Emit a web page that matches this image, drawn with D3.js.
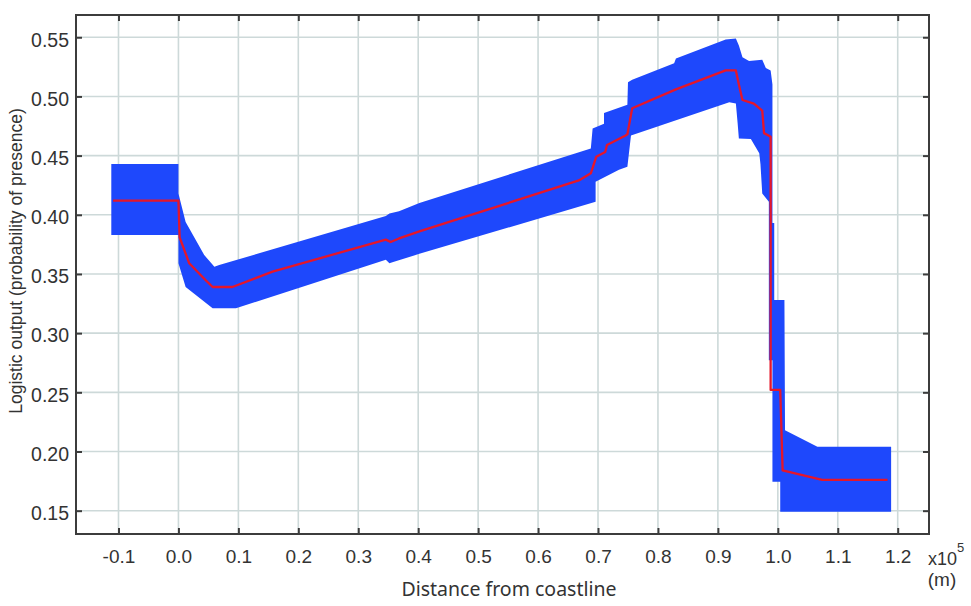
<!DOCTYPE html>
<html>
<head>
<meta charset="utf-8">
<script src="https://cdn.jsdelivr.net/npm/d3@7"></script>
<style>
  body { margin: 0; background: #fff; }
  svg { display: block; }
</style>
</head>
<body>
<svg width="971" height="606"></svg>
<script>
// x values are in units of 10^5 m
const meanX = [-0.109, 0.0, 0.002, 0.018, 0.043, 0.057, 0.090, 0.157, 0.346, 0.354, 0.368, 0.402,
  0.668, 0.688, 0.697, 0.712, 0.715, 0.746, 0.749, 0.757, 0.830, 0.913, 0.930, 0.935, 0.941,
  0.960, 0.974, 0.977, 0.988, 0.988, 1.004, 1.008, 1.074, 1.183];
const meanY = [0.412, 0.412, 0.381, 0.359, 0.346, 0.339, 0.339, 0.352, 0.379, 0.377, 0.380, 0.386,
  0.429, 0.435, 0.449, 0.453, 0.459, 0.467, 0.468, 0.490, 0.506, 0.522, 0.522, 0.510, 0.497,
  0.494, 0.488, 0.469, 0.466, 0.252, 0.252, 0.184, 0.176, 0.176];

const upperX = [-0.112, 0.0, 0.0, 0.012, 0.043, 0.060, 0.068, 0.346, 0.352, 0.368, 0.402, 0.688,
  0.691, 0.710, 0.710, 0.749, 0.750, 0.757, 0.827, 0.830, 0.913, 0.930, 0.935, 0.941, 0.952,
  0.974, 0.980, 0.988, 0.991, 0.991, 0.994, 0.994, 1.011, 1.012, 1.066, 1.189];
const upperY = [0.443, 0.443, 0.418, 0.394, 0.366, 0.356, 0.3575, 0.399, 0.401, 0.403, 0.410, 0.456,
  0.473, 0.477, 0.486, 0.493, 0.512, 0.514, 0.528, 0.532, 0.548, 0.549, 0.543, 0.533, 0.530,
  0.531, 0.524, 0.522, 0.510, 0.393, 0.393, 0.328, 0.328, 0.218, 0.204, 0.204];

const lowerX = [-0.112, 0.0, 0.0, 0.012, 0.057, 0.096, 0.346, 0.352, 0.357, 0.402, 0.696, 0.696,
  0.735, 0.749, 0.755, 0.919, 0.930, 0.933, 0.935, 0.955, 0.969, 0.971, 0.974, 0.985, 0.985,
  0.991, 0.991, 1.004, 1.004, 1.189];
const lowerY = [0.383, 0.383, 0.359, 0.339, 0.321, 0.321, 0.362, 0.359, 0.360, 0.367, 0.411, 0.428,
  0.438, 0.4405, 0.467, 0.495, 0.494, 0.477, 0.4645, 0.464, 0.452, 0.443, 0.418, 0.411, 0.277,
  0.277, 0.1745, 0.1745, 0.149, 0.149];

const xTicks = [-0.1, 0, 0.1, 0.2, 0.3, 0.4, 0.5, 0.6, 0.7, 0.8, 0.9, 1.0, 1.1, 1.2];
const yTicks = [0.15, 0.20, 0.25, 0.30, 0.35, 0.40, 0.45, 0.50, 0.55];

const plot = { left: 76, top: 15, right: 929, bottom: 534 };
const font = "'Liberation Sans', Arial, sans-serif";

const svg = d3.select("svg");

const x = d3.scaleLinear().domain([-0.1709, 1.2522]).range([plot.left, plot.right]);
const y = d3.scaleLinear().domain([0.1303, 0.5688]).range([plot.bottom, plot.top]);

// grid
const grid = svg.append("g").attr("stroke", "#cdd9d9").attr("stroke-width", 1.6);
grid.selectAll(".vg").data(xTicks).join("line")
  .attr("x1", d => x(d)).attr("x2", d => x(d))
  .attr("y1", plot.top).attr("y2", plot.bottom);
grid.selectAll(".hg").data(yTicks).join("line")
  .attr("x1", plot.left).attr("x2", plot.right)
  .attr("y1", d => y(d)).attr("y2", d => y(d));

// confidence band
const band = upperX.map((v, i) => [v, upperY[i]])
  .concat(lowerX.map((v, i) => [v, lowerY[i]]).reverse());
svg.append("path")
  .attr("d", d3.line().x(d => x(d[0])).y(d => y(d[1]))(band) + "Z")
  .attr("fill", "#1e48fc");

// mean response
svg.append("path")
  .datum(meanX.map((v, i) => [v, meanY[i]]))
  .attr("d", d3.line().x(d => x(d[0])).y(d => y(d[1])))
  .attr("fill", "none")
  .attr("stroke", "#e5162a")
  .attr("stroke-width", 2.3)
  .attr("stroke-linejoin", "round");

// axes with inward ticks
const fmtX = d => d.toFixed(1);
const fmtY = d => d.toFixed(2);

const gx = svg.append("g").attr("transform", `translate(0,${plot.bottom})`)
  .call(d3.axisBottom(x).tickValues(xTicks).tickSize(-6).tickPadding(16).tickFormat(fmtX));
const gy = svg.append("g").attr("transform", `translate(${plot.left},0)`)
  .call(d3.axisLeft(y).tickValues(yTicks).tickSize(-6).tickPadding(7).tickFormat(fmtY));
svg.append("g").attr("transform", `translate(0,${plot.top})`)
  .call(d3.axisTop(x).tickValues(xTicks).tickSize(-6).tickFormat(""));
svg.append("g").attr("transform", `translate(${plot.right},0)`)
  .call(d3.axisRight(y).tickValues(yTicks).tickSize(-6).tickFormat(""));

svg.selectAll(".domain").remove();
svg.selectAll(".tick line").attr("stroke", "#3c3c3c").attr("stroke-width", 2);
svg.selectAll(".tick text").attr("fill", "#333").attr("font-family", font).attr("font-size", 19);
gy.selectAll(".tick text").attr("dy", "0.45em").attr("font-size", 19.5);

// frame
svg.append("rect")
  .attr("x", plot.left).attr("y", plot.top)
  .attr("width", plot.right - plot.left).attr("height", plot.bottom - plot.top)
  .attr("fill", "none").attr("stroke", "#3c3c3c").attr("stroke-width", 2);

// titles
svg.append("text")
  .attr("x", 509).attr("y", 596)
  .attr("text-anchor", "middle")
  .attr("font-family", "'Noto Sans', 'Open Sans', sans-serif")
  .attr("font-size", 19.5)
  .attr("fill", "#333")
  .text("Distance from coastline");

svg.append("text")
  .attr("transform", "translate(22,261) rotate(-90)")
  .attr("text-anchor", "middle")
  .attr("font-family", font)
  .attr("font-size", 17.5)
  .attr("fill", "#333")
  .text("Logistic output (probability of presence)");

const exp = svg.append("text")
  .attr("x", 928).attr("y", 565)
  .attr("font-family", font)
  .attr("font-size", 18)
  .attr("fill", "#333");
exp.append("tspan").text("x10");
exp.append("tspan").attr("dy", -13).attr("font-size", 13).text("5");

svg.append("text")
  .attr("x", 942).attr("y", 586)
  .attr("text-anchor", "middle")
  .attr("font-family", font)
  .attr("font-size", 19)
  .attr("fill", "#333")
  .text("(m)");
</script>
</body>
</html>
